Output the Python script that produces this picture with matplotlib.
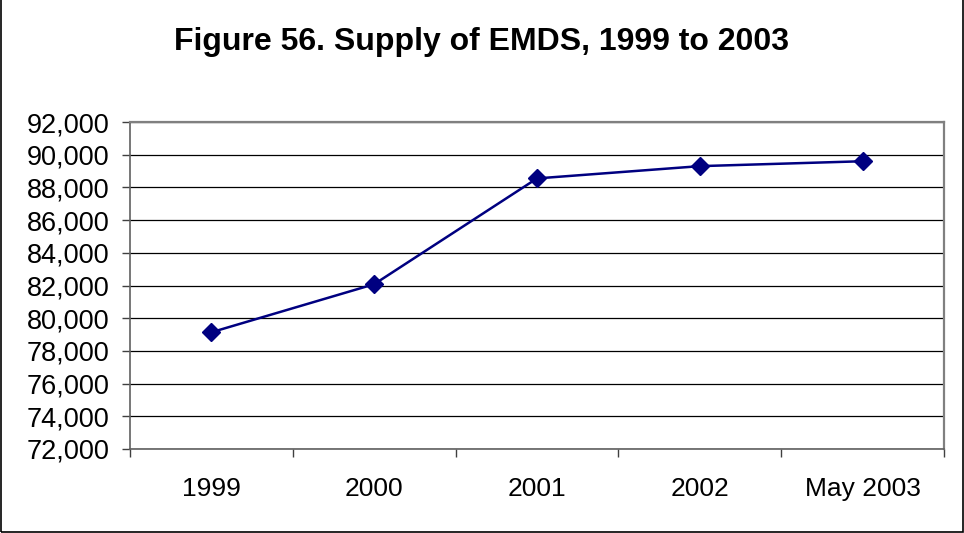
import numpy as np
import matplotlib.pyplot as plt
from matplotlib.patches import Rectangle

plt.rcParams['font.family'] = ['Liberation Sans', 'DejaVu Sans']

# data
categories = ['1999', '2000', '2001', '2002', 'May 2003']
supply = [79140, 82080, 88550, 89300, 89600]
y_ticks = np.arange(72000, 92001, 2000)

fig = plt.figure(figsize=(9.64, 5.33), dpi=100)
ax = fig.add_axes([130 / 964, 84 / 533, 814 / 964, 327 / 533])

x = np.arange(len(categories))
ax.plot(x, supply, color='#000080', linewidth=1.8, marker='D',
        markersize=9, markerfacecolor='#000080', markeredgecolor='#000080',
        zorder=3)

ax.set_xlim(-0.5, len(categories) - 0.5)
ax.set_ylim(72000, 92000)
ax.set_yticks(y_ticks)
ax.set_yticklabels([f'{v:,}' for v in y_ticks])
ax.yaxis.grid(True, color='black', linewidth=0.9)
ax.set_axisbelow(True)

# category boundaries get ticks, labels sit in between
ax.set_xticks(np.arange(-0.5, len(categories), 1.0))
ax.set_xticklabels([])
ax.set_xticks(x, minor=True)
ax.set_xticklabels(categories, minor=True)
ax.tick_params(axis='x', which='major', direction='out', length=6,
               width=1, color='#404040')
ax.tick_params(axis='x', which='minor', length=0, pad=20, labelsize=19)
ax.tick_params(axis='y', direction='out', length=6, width=1,
               color='#404040', pad=9, labelsize=19.5)

for side in ['top', 'right']:
    ax.spines[side].set_color('#808080')
    ax.spines[side].set_linewidth(1.6)
for side in ['left', 'bottom']:
    ax.spines[side].set_color('#606060')
    ax.spines[side].set_linewidth(1.2)

fig.text(0.5, 1 - 42 / 533, 'Figure 56. Supply of EMDS, 1999 to 2003',
         ha='center', va='center', fontsize=23, fontweight='bold')

# outer chart frame
fig.patches.append(Rectangle((0.001, 0.002), 0.998, 1.2, transform=fig.transFigure,
                             fill=False, edgecolor='black', linewidth=1.2))

fig.savefig('out.png', dpi=100)
